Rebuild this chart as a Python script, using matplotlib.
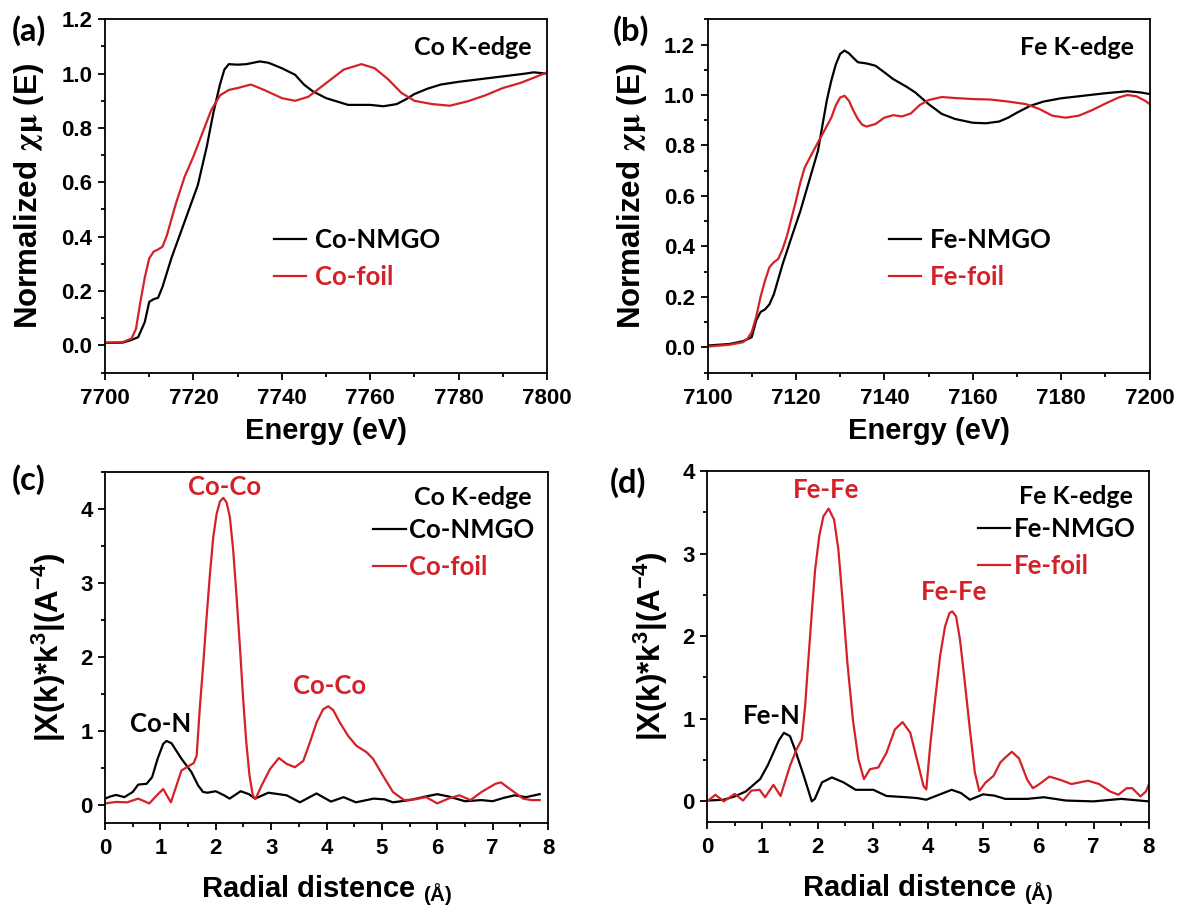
import numpy as np
import matplotlib
matplotlib.use("Agg")
import matplotlib.pyplot as plt
from matplotlib.ticker import MultipleLocator, FormatStrFormatter

plt.rcParams['font.family'] = ['Liberation Sans', 'DejaVu Sans']
plt.rcParams['font.weight'] = 'bold'
plt.rcParams['mathtext.fontset'] = 'stix'
plt.rcParams['mathtext.default'] = 'regular'

RED = '#d42128'
CAL = ['Lato', 'DejaVu Sans']  # вместо Calibri

# (a) Co K-edge XANES
co_e_nmgo = [7700, 7704, 7706, 7707.5, 7709, 7710, 7711, 7712, 7713, 7715, 7717, 7719, 7721,
             7723, 7724.5, 7726, 7727, 7728, 7730, 7732, 7735, 7737, 7740, 7743, 7745, 7747,
             7750, 7752, 7755, 7760, 7763, 7766, 7768, 7770, 7773, 7776, 7780, 7785, 7790,
             7795, 7797, 7800]
co_mu_nmgo = [0.009, 0.01, 0.02, 0.03, 0.086, 0.16, 0.17, 0.175, 0.215, 0.32, 0.41, 0.50, 0.59,
              0.73, 0.855, 0.96, 1.015, 1.035, 1.033, 1.035, 1.045, 1.04, 1.02, 0.996, 0.96, 0.935,
              0.91, 0.90, 0.885, 0.885, 0.88, 0.888, 0.905, 0.925, 0.945, 0.96, 0.97, 0.98, 0.99,
              1.0, 1.005, 1.0]
co_e_foil = [7700, 7704, 7706, 7707, 7708, 7709, 7710, 7711, 7712, 7713, 7714, 7716, 7718, 7720,
             7722, 7724, 7726, 7728, 7730, 7733, 7736, 7740, 7743, 7746, 7750, 7754, 7758, 7761,
             7764, 7767, 7770, 7774, 7778, 7782, 7786, 7790, 7794, 7797, 7800]
co_mu_foil = [0.01, 0.012, 0.025, 0.06, 0.16, 0.25, 0.32, 0.345, 0.353, 0.363, 0.405, 0.52, 0.62,
              0.695, 0.78, 0.865, 0.92, 0.94, 0.947, 0.96, 0.94, 0.91, 0.90, 0.915, 0.965, 1.015,
              1.035, 1.02, 0.98, 0.93, 0.90, 0.888, 0.882, 0.898, 0.92, 0.947, 0.966, 0.985, 1.005]

# (b) Fe K-edge XANES
fe_e_nmgo = [7100, 7105, 7108, 7110, 7111, 7112, 7113, 7114, 7115, 7117, 7119, 7121, 7123, 7125,
             7127, 7128, 7129, 7130, 7131, 7132, 7133, 7134, 7136, 7138, 7140, 7142, 7145, 7147,
             7150, 7153, 7156, 7160, 7163, 7166, 7168, 7170, 7173, 7176, 7180, 7185, 7190, 7195,
             7198, 7200]
fe_mu_nmgo = [0.007, 0.013, 0.024, 0.04, 0.106, 0.14, 0.15, 0.17, 0.21, 0.33, 0.436, 0.54, 0.66,
              0.78, 0.98, 1.057, 1.12, 1.163, 1.176, 1.165, 1.147, 1.13, 1.125, 1.116, 1.09, 1.063,
              1.033, 1.01, 0.964, 0.925, 0.905, 0.89, 0.888, 0.895, 0.91, 0.93, 0.957, 0.974,
              0.987, 0.997, 1.007, 1.015, 1.01, 1.004]
fe_e_foil = [7100, 7105, 7108, 7109, 7110, 7111, 7112, 7113, 7114, 7115, 7116, 7117, 7118, 7120,
             7121, 7122, 7124, 7126, 7128, 7129, 7130, 7131, 7132, 7133, 7134, 7135, 7136, 7138,
             7140, 7142, 7144, 7146, 7148, 7150, 7153, 7156, 7160, 7164, 7168, 7172, 7175, 7178,
             7181, 7184, 7187, 7190, 7193, 7195, 7197, 7199, 7200]
fe_mu_foil = [0.003, 0.01, 0.02, 0.033, 0.06, 0.12, 0.2, 0.264, 0.317, 0.337, 0.35, 0.39, 0.443,
              0.58, 0.654, 0.713, 0.78, 0.845, 0.91, 0.958, 0.99, 0.997, 0.977, 0.938, 0.905,
              0.882, 0.875, 0.885, 0.91, 0.92, 0.915, 0.927, 0.96, 0.98, 0.992, 0.988, 0.984,
              0.982, 0.974, 0.964, 0.945, 0.918, 0.91, 0.918, 0.94, 0.966, 0.99, 1.0, 0.995,
              0.977, 0.964]

# (c) Co, |chi(R)|
co_r_nmgo = [0, 0.1, 0.2, 0.35, 0.5, 0.6, 0.75, 0.85, 0.95, 1.05, 1.11, 1.2, 1.38, 1.56, 1.68,
             1.77, 1.85, 2.0, 2.15, 2.25, 2.45, 2.6, 2.71, 2.95, 3.28, 3.52, 3.82, 4.08, 4.31,
             4.53, 4.85, 5.05, 5.2, 5.5, 5.8, 6.0, 6.2, 6.5, 6.8, 7.0, 7.2, 7.4, 7.6, 7.85]
co_ft_nmgo = [0.08, 0.11, 0.13, 0.10, 0.17, 0.27, 0.28, 0.37, 0.62, 0.82, 0.86, 0.83, 0.62, 0.44,
              0.26, 0.17, 0.16, 0.18, 0.125, 0.08, 0.18, 0.14, 0.08, 0.16, 0.125, 0.03, 0.15,
              0.04, 0.10, 0.03, 0.08, 0.07, 0.03, 0.06, 0.11, 0.14, 0.11, 0.045, 0.06, 0.045,
              0.09, 0.125, 0.10, 0.14]
co_r_foil = [0, 0.2, 0.4, 0.6, 0.8, 0.93, 1.05, 1.19, 1.38, 1.53, 1.6, 1.655, 1.715, 1.775, 1.835,
             1.895, 1.955, 2.015, 2.075, 2.135, 2.195, 2.255, 2.315, 2.375, 2.435, 2.49, 2.55,
             2.61, 2.67, 2.72, 2.83, 2.98, 3.14, 3.28, 3.43, 3.58, 3.70, 3.82, 3.94, 4.03, 4.12,
             4.24, 4.39, 4.54, 4.72, 4.84, 5.0, 5.2, 5.4, 5.6, 5.8, 6.0, 6.2, 6.4, 6.6, 6.8,
             7.05, 7.15, 7.35, 7.55, 7.7, 7.85]
co_ft_foil = [0.015, 0.035, 0.03, 0.08, 0.015, 0.12, 0.21, 0.03, 0.46, 0.53, 0.56, 0.66, 1.34,
              1.91, 2.54, 3.12, 3.62, 3.93, 4.10, 4.15, 4.09, 3.89, 3.44, 2.82, 2.15, 1.48, 0.85,
              0.39, 0.12, 0.08, 0.26, 0.48, 0.63, 0.55, 0.505, 0.59, 0.84, 1.11, 1.29, 1.33,
              1.28, 1.11, 0.93, 0.795, 0.71, 0.62, 0.415, 0.17, 0.06, 0.07, 0.10, 0.015, 0.08,
              0.125, 0.06, 0.17, 0.28, 0.30, 0.19, 0.08, 0.06, 0.06]

# (d) Fe, |chi(R)|
fe_r_nmgo = [0, 0.3, 0.5, 0.7, 0.96, 1.1, 1.2, 1.3, 1.39, 1.5, 1.59, 1.75, 1.895, 1.95, 2.08,
             2.26, 2.47, 2.69, 3.01, 3.25, 3.61, 3.8, 3.97, 4.2, 4.43, 4.6, 4.76, 5.0, 5.2, 5.4,
             5.8, 6.1, 6.5, 7.0, 7.5, 8.0]
fe_ft_nmgo = [0.01, 0.02, 0.06, 0.12, 0.27, 0.44, 0.59, 0.74, 0.83, 0.79, 0.63, 0.31, 0.0, 0.03,
              0.23, 0.29, 0.23, 0.14, 0.14, 0.065, 0.05, 0.04, 0.02, 0.08, 0.14, 0.10, 0.02,
              0.085, 0.07, 0.03, 0.03, 0.05, 0.01, 0.0, 0.03, 0.0]
fe_r_foil = [0, 0.15, 0.3, 0.5, 0.65, 0.8, 0.95, 1.05, 1.2, 1.33, 1.5, 1.62, 1.714, 1.774, 1.834,
             1.895, 1.955, 2.03, 2.105, 2.2, 2.3, 2.377, 2.457, 2.54, 2.64, 2.74, 2.84, 2.95,
             3.1, 3.25, 3.4, 3.54, 3.68, 3.8, 3.92, 3.97, 4.04, 4.13, 4.22, 4.31, 4.39, 4.44,
             4.51, 4.58, 4.67, 4.76, 4.85, 4.93, 5.04, 5.19, 5.31, 5.4, 5.52, 5.65, 5.8, 5.9,
             6.0, 6.2, 6.4, 6.6, 6.9, 7.1, 7.3, 7.45, 7.6, 7.7, 7.85, 7.95, 8.0]
fe_ft_foil = [0.0, 0.08, 0.0, 0.09, 0.01, 0.13, 0.14, 0.05, 0.20, 0.065, 0.43, 0.63, 0.75, 1.15,
              1.72, 2.28, 2.80, 3.21, 3.45, 3.545, 3.41, 3.05, 2.40, 1.68, 0.99, 0.51, 0.27,
              0.39, 0.41, 0.59, 0.87, 0.96, 0.83, 0.51, 0.185, 0.145, 0.67, 1.23, 1.76, 2.12,
              2.28, 2.30, 2.24, 1.96, 1.43, 0.87, 0.35, 0.125, 0.225, 0.31, 0.47, 0.53, 0.60,
              0.52, 0.26, 0.16, 0.20, 0.30, 0.26, 0.21, 0.25, 0.21, 0.12, 0.08, 0.16, 0.16,
              0.06, 0.12, 0.20]


def style_axes(ax):
    for sp in ax.spines.values():
        sp.set_linewidth(1.3)
    ax.tick_params(which='both', direction='out', top=False, right=False,
                   labelsize=16, width=1.3)
    ax.tick_params(which='major', length=5)
    ax.tick_params(which='minor', length=3)
    ax.tick_params(axis='x', pad=6)
    ax.tick_params(axis='y', pad=4)
    for lab in ax.get_xticklabels() + ax.get_yticklabels():
        lab.set_fontweight('bold')


fig = plt.figure(figsize=(11.8, 9.07), dpi=100)
ax_a = fig.add_axes([0.089, 0.5893, 0.3746, 0.3894])
ax_b = fig.add_axes([0.5996, 0.5893, 0.3746, 0.3894])
ax_c = fig.add_axes([0.089, 0.0926, 0.3754, 0.387])
ax_d = fig.add_axes([0.5993, 0.0937, 0.3742, 0.387])

leg_kw = dict(frameon=False, borderpad=0, borderaxespad=0, handlelength=1.25,
              handletextpad=0.35, labelspacing=0.5,
              prop={'family': CAL, 'weight': 'bold', 'size': 18.5})

# XANES
for ax, e1, m1, e2, m2, el, lims, lx in [
        (ax_a, co_e_nmgo, co_mu_nmgo, co_e_foil, co_mu_foil, 'Co', (7700, 7800, -0.1, 1.2), 0.382),
        (ax_b, fe_e_nmgo, fe_mu_nmgo, fe_e_foil, fe_mu_foil, 'Fe', (7100, 7200, -0.1, 1.3), 0.41)]:
    ax.plot(e1, m1, color='black', lw=1.6, label=f'{el}-NMGO')
    ax.plot(e2, m2, color=RED, lw=1.6, label=f'{el}-foil')
    ax.set_xlim(lims[0], lims[1])
    ax.set_ylim(lims[2], lims[3])
    ax.xaxis.set_major_locator(MultipleLocator(20))
    ax.xaxis.set_minor_locator(MultipleLocator(10))
    ax.yaxis.set_major_locator(MultipleLocator(0.2))
    ax.yaxis.set_minor_locator(MultipleLocator(0.1))
    ax.yaxis.set_major_formatter(FormatStrFormatter('%.1f'))
    style_axes(ax)
    ax.set_xlabel('Energy (eV)', fontsize=21, fontweight='bold', labelpad=6)
    ax.set_ylabel(r'Normalized $\mathrm{\chi\mu}$ (E)', fontsize=22.5, fontweight='bold',
                  labelpad=11)
    ax.text(0.964, 0.92, f'{el} K-edge', transform=ax.transAxes, ha='right', va='center',
            fontsize=18, family=CAL, weight='bold')
    ax.legend(loc='center left', bbox_to_anchor=(lx, 0.322),
              labelcolor=['black', RED], **leg_kw)

# EXAFS
for ax, r1, f1, r2, f2, el, ytop, lx in [
        (ax_c, co_r_nmgo, co_ft_nmgo, co_r_foil, co_ft_foil, 'Co', 4.5, 0.606),
        (ax_d, fe_r_nmgo, fe_ft_nmgo, fe_r_foil, fe_ft_foil, 'Fe', 4.0, 0.614)]:
    ax.plot(r1, f1, color='black', lw=1.6, label=f'{el}-NMGO')
    ax.plot(r2, f2, color=RED, lw=1.6, label=f'{el}-foil')
    ax.set_xlim(0, 8)
    ax.set_ylim(-0.25, ytop)
    ax.xaxis.set_major_locator(MultipleLocator(1))
    ax.xaxis.set_minor_locator(MultipleLocator(0.5))
    ax.yaxis.set_major_locator(MultipleLocator(1))
    ax.yaxis.set_minor_locator(MultipleLocator(0.5))
    style_axes(ax)
    ax.set_xlabel(r'Radial distence $_{(Å)}$', fontsize=21, fontweight='bold', labelpad=10)
    ax.set_ylabel(r'|X(k)*k$^{3}$|(A$^{-4}$)', fontsize=22.5, fontweight='bold', labelpad=9)
    ax.text(0.963, 0.927, f'{el} K-edge', transform=ax.transAxes, ha='right', va='center',
            fontsize=18, family=CAL, weight='bold')
    ax.legend(loc='center left', bbox_to_anchor=(lx, 0.783),
              labelcolor=['black', RED], **dict(leg_kw, handletextpad=0.15))

ann = dict(fontsize=18.5, family=CAL, weight='bold', ha='center', va='center')
ax_c.text(2.15, 4.30, 'Co-Co', color=RED, **ann)
ax_c.text(4.06, 1.60, 'Co-Co', color=RED, **ann)
ax_c.text(1.0, 1.09, 'Co-N', color='black', **ann)
ax_d.text(2.15, 3.77, 'Fe-Fe', color=RED, **ann)
ax_d.text(4.47, 2.54, 'Fe-Fe', color=RED, **ann)
ax_d.text(1.18, 1.03, 'Fe-N', color='black', **ann)

# подписи панелей
for x, y, s in [(0.010, 0.983, '(a)'), (0.519, 0.983, '(b)'),
                (0.010, 0.488, '(c)'), (0.517, 0.485, '(d)')]:
    fig.text(x, y, s, fontsize=23.5, family=CAL, weight='bold', va='top', ha='left')

fig.savefig('out.png', dpi=100)
